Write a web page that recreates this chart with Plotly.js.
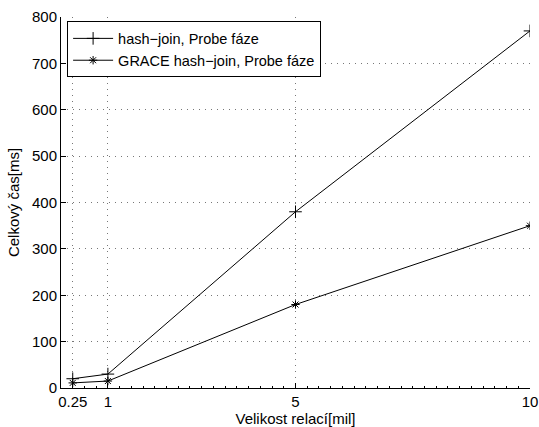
<!DOCTYPE html>
<html>
<head>
<meta charset="utf-8">
<script src="https://cdn.plot.ly/plotly-3.0.1.min.js"></script>
<style>
  html, body { margin: 0; padding: 0; background: #fff; }
  #chart { width: 539px; height: 427px; }
</style>
</head>
<body>
<div id="chart"></div>
<script>
// Relation sizes in millions of rows
const relationSizes = [0.25, 1, 5, 10];
// Probe-phase time [ms]
const hashJoinProbe = [20, 30, 380, 770];
const graceHashJoinProbe = [11, 15, 180, 350];

const seriesNames = ['hash\u2212join, Probe fáze', 'GRACE hash\u2212join, Probe fáze'];
const xTickValues = [0.25, 1, 5, 10];
const xTickLabels = ['0.25', '1', '5', '10'];
const yTickValues = [0, 100, 200, 300, 400, 500, 600, 700, 800];

const family = 'Liberation Sans, Arial, Helvetica, sans-serif';
const tickFont = { family: family, size: 15, color: '#000' };
const titleFont = { family: family, size: 15, color: '#000' };
const legendFont = { family: family, size: 14.5, color: '#000' };

const traces = [
  {
    x: relationSizes, y: hashJoinProbe, name: seriesNames[0],
    type: 'scatter', mode: 'lines+markers',
    line: { color: '#000', width: 1 },
    marker: { symbol: 'cross-thin-open', size: 9, color: '#000', line: { color: '#000', width: 1 } }
  },
  {
    x: relationSizes, y: graceHashJoinProbe, name: seriesNames[1],
    type: 'scatter', mode: 'lines+markers',
    line: { color: '#000', width: 1 },
    marker: { symbol: 'asterisk-open', size: 7, color: '#000', line: { color: '#000', width: 1 } }
  }
];

const gridDash = '1px,5px';

const layout = {
  width: 539, height: 427,
  margin: { l: 61, r: 9, t: 17, b: 39 },
  paper_bgcolor: '#fff', plot_bgcolor: '#fff',
  font: tickFont,
  showlegend: true,
  legend: {
    x: 0.013, y: 0.988, xanchor: 'left', yanchor: 'top',
    bgcolor: '#fff', bordercolor: '#000', borderwidth: 1,
    font: legendFont, itemwidth: 40, tracegroupgap: 0
  },
  xaxis: {
    range: [0, 10],
    tickmode: 'array', tickvals: xTickValues, ticktext: xTickLabels,
    ticks: 'inside', ticklen: 5, tickcolor: '#000', tickwidth: 1,
    showline: true, linecolor: '#000', linewidth: 1, mirror: false,
    showgrid: true, gridcolor: '#777', griddash: gridDash, gridwidth: 1,
    zeroline: false,
    minor: { dtick: 0.25, tick0: 0, ticks: 'inside', ticklen: 2, tickcolor: '#000', showgrid: false },
    title: { text: 'Velikost relací[mil]', font: titleFont, standoff: 4 },
    tickfont: tickFont
  },
  yaxis: {
    range: [0, 800],
    tickmode: 'array', tickvals: yTickValues,
    ticks: 'inside', ticklen: 5, tickcolor: '#000', tickwidth: 1,
    showline: true, linecolor: '#000', linewidth: 1, mirror: false,
    showgrid: true, gridcolor: '#777', griddash: gridDash, gridwidth: 1,
    zeroline: false,
    title: { text: 'Celkový čas[ms]', font: titleFont, standoff: 8 },
    tickfont: tickFont
  }
};

Plotly.newPlot('chart', traces, layout, { displayModeBar: false, staticPlot: true });
</script>
</body>
</html>
